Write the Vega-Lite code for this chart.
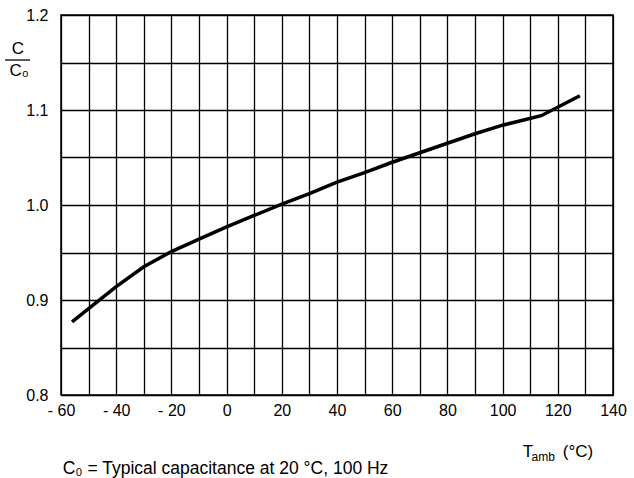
{
  "$schema": "https://vega.github.io/schema/vega-lite/v6.json",
  "autosize": "none",
  "width": 552,
  "height": 380,
  "padding": {"left": 61, "top": 15, "right": 21, "bottom": 83},
  "background": "white",
  "config": {
    "font": "Liberation Sans",
    "text": {"fontWeight": "normal", "font": "Liberation Sans"},
    "view": {"stroke": "black", "strokeWidth": 1.5},
    "axis": {"labelFont": "Liberation Sans", "labelFontSize": 16, "labelColor": "black", "domain": false, "ticks": false, "grid": true, "gridColor": "black", "gridOpacity": 1, "gridWidth": 1.3, "labelOverlap": false, "labelFlush": false, "title": null},
    "axisX": {"tickCount": 20, "labelPadding": 7, "labelExpr": "datum.value % 20 != 0 ? '' : (datum.value < 0 ? '- ' + abs(datum.value) : datum.label)"},
    "axisY": {"tickCount": 8, "labelPadding": 13, "labelExpr": "abs(round(datum.value*100) % 10) == 0 ? format(datum.value, '.1f') : ''"}
  },
  "datasets": {
    "curve": [
      {"t": -56, "c": 0.877},
      {"t": -50, "c": 0.891},
      {"t": -40, "c": 0.914},
      {"t": -30, "c": 0.935},
      {"t": -20, "c": 0.951},
      {"t": -10, "c": 0.964},
      {"t": 0, "c": 0.977},
      {"t": 10, "c": 0.989},
      {"t": 20, "c": 1.001},
      {"t": 30, "c": 1.012},
      {"t": 40, "c": 1.024},
      {"t": 50, "c": 1.034},
      {"t": 60, "c": 1.045},
      {"t": 70, "c": 1.055},
      {"t": 80, "c": 1.065},
      {"t": 90, "c": 1.075},
      {"t": 100, "c": 1.084},
      {"t": 114, "c": 1.094},
      {"t": 128, "c": 1.115}
    ],
    "one": [{"k": 1}]
  },
  "layer": [
    {
      "data": {"name": "curve"},
      "mark": {"type": "line", "color": "black", "strokeWidth": 3.5, "interpolate": "linear"},
      "encoding": {
        "x": {"field": "t", "type": "quantitative", "title": null, "scale": {"domain": [-60, 140], "nice": false, "zero": false}},
        "y": {"field": "c", "type": "quantitative", "title": null, "scale": {"domain": [0.8, 1.2], "nice": false, "zero": false}}
      }
    },
    {
      "data": {"name": "one"},
      "mark": {"type": "text", "text": "C", "fontSize": 17, "fontWeight": "normal", "align": "center", "baseline": "middle", "color": "black"},
      "encoding": {"x": {"datum": -75.6, "type": "quantitative"}, "y": {"datum": 1.1642, "type": "quantitative"}}
    },
    {
      "data": {"name": "one"},
      "mark": {"type": "rule", "color": "black", "strokeWidth": 1.3},
      "encoding": {"x": {"datum": -80.3, "type": "quantitative"}, "x2": {"datum": -71.2}, "y": {"datum": 1.1526, "type": "quantitative"}}
    },
    {
      "data": {"name": "one"},
      "mark": {"type": "text", "text": "C₀", "fontSize": 17, "fontWeight": "normal", "align": "center", "baseline": "middle", "color": "black"},
      "encoding": {"x": {"datum": -75.2, "type": "quantitative"}, "y": {"datum": 1.1411, "type": "quantitative"}}
    },
    {
      "data": {"name": "one"},
      "mark": {"type": "text", "text": "T", "fontSize": 17, "fontWeight": "normal", "align": "left", "baseline": "alphabetic", "color": "black"},
      "encoding": {"x": {"datum": 107.3, "type": "quantitative"}, "y": {"datum": 0.7344, "type": "quantitative"}}
    },
    {
      "data": {"name": "one"},
      "mark": {"type": "text", "text": "amb", "fontSize": 12, "fontWeight": "normal", "align": "left", "baseline": "alphabetic", "color": "black"},
      "encoding": {"x": {"datum": 110.5, "type": "quantitative"}, "y": {"datum": 0.7308, "type": "quantitative"}}
    },
    {
      "data": {"name": "one"},
      "mark": {"type": "text", "text": "(°C)", "fontSize": 17, "fontWeight": "normal", "align": "left", "baseline": "alphabetic", "color": "black"},
      "encoding": {"x": {"datum": 121.8, "type": "quantitative"}, "y": {"datum": 0.7344, "type": "quantitative"}}
    },
    {
      "data": {"name": "one"},
      "mark": {"type": "text", "text": "C₀ = Typical capacitance at 20 °C, 100 Hz", "fontSize": 17.5, "fontWeight": "normal", "align": "left", "baseline": "alphabetic", "color": "black"},
      "encoding": {"x": {"datum": -59.4, "type": "quantitative"}, "y": {"datum": 0.7168, "type": "quantitative"}}
    }
  ]
}
